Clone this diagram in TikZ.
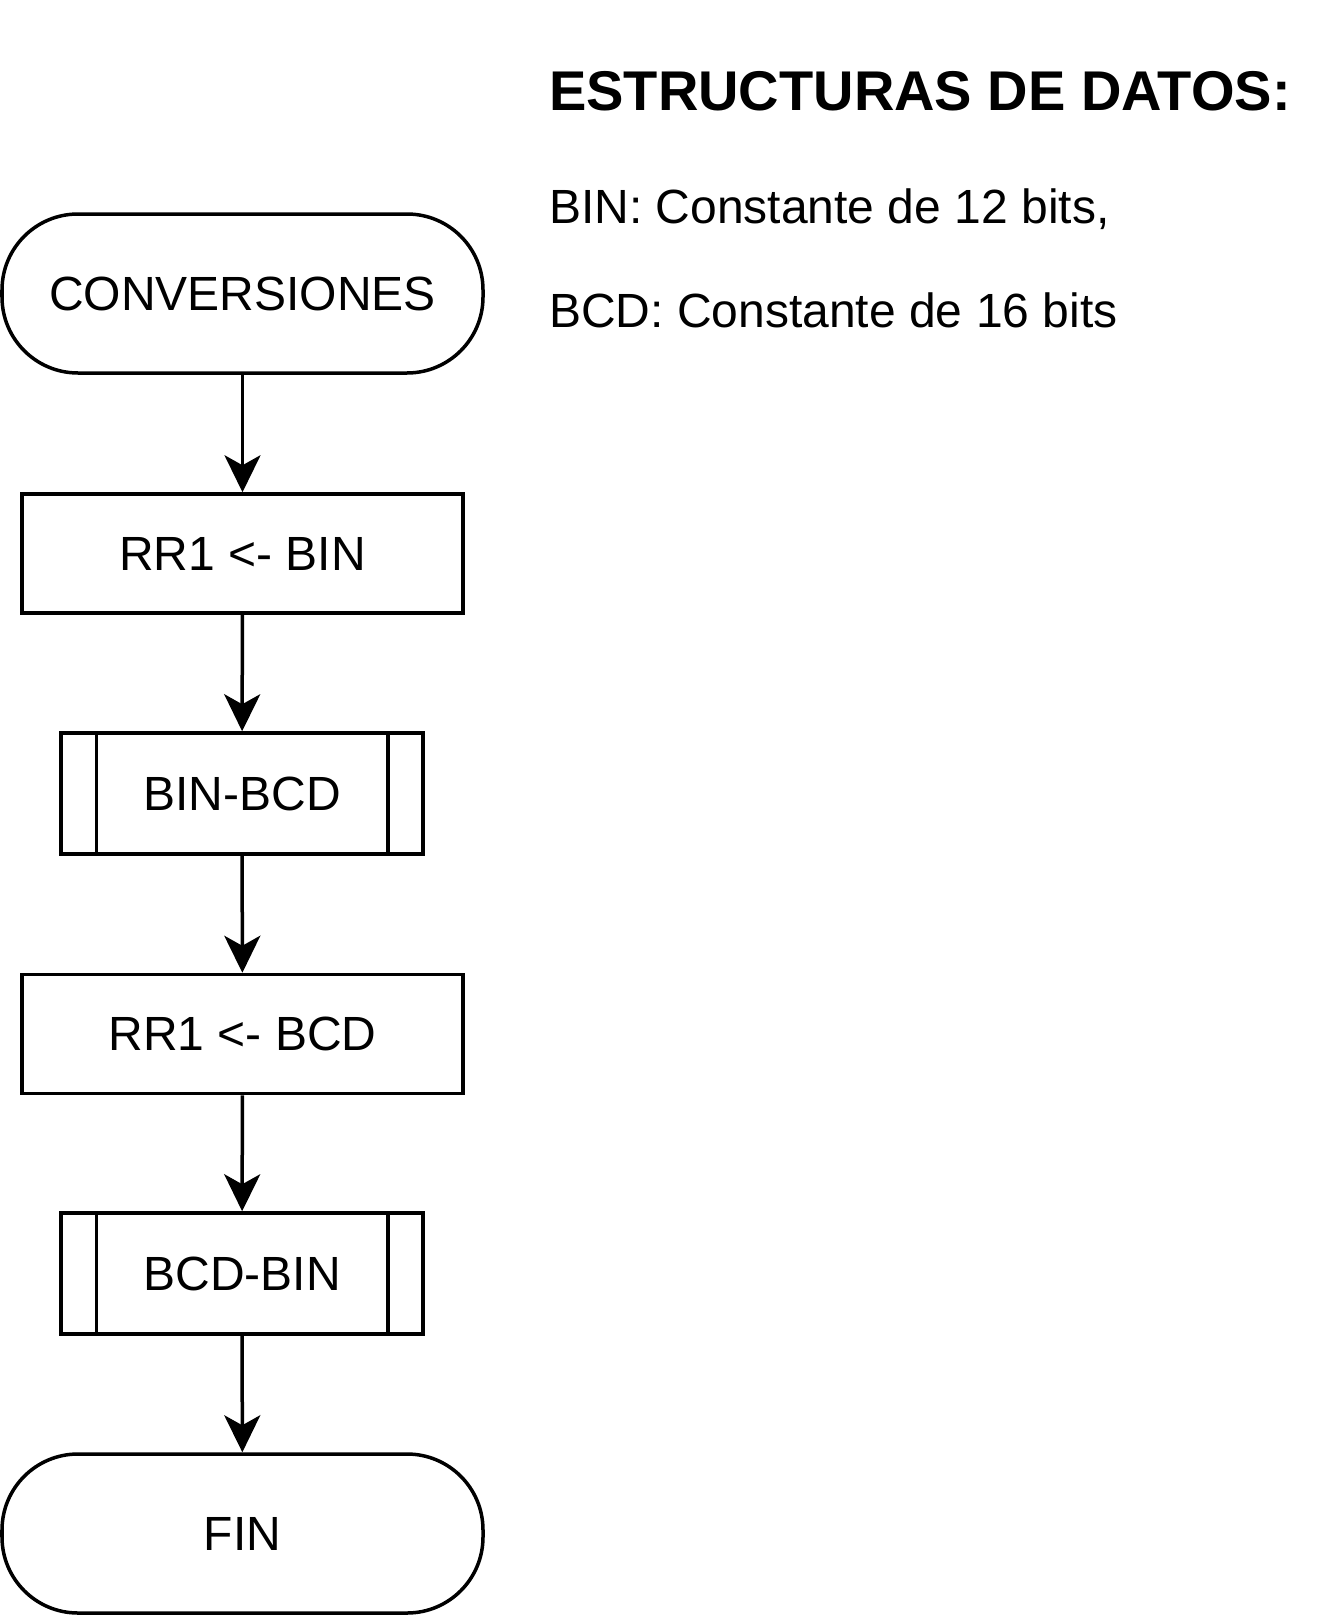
\documentclass[tikz,border=0pt]{standalone}
\usepackage{fontspec}
\setmainfont{Liberation Sans}
\usetikzlibrary{arrows.meta}
\begin{document}
\begin{tikzpicture}[x=1pt,y=-1pt,
  every node/.style={inner sep=0pt, font=\fontsize{48}{57}\selectfont},
  term/.style={draw, line width=3.5pt, rounded corners=76pt, minimum width=481pt, minimum height=159pt},
  procbox/.style={draw, line width=3.5pt, minimum width=441pt, minimum height=119pt},
  subbox/.style={draw, line width=3.5pt, minimum width=362pt, minimum height=121pt},
  conn/.style={line width=3.5pt, -{Stealth[length=37pt,width=36pt,inset=10pt]}},
  lbl/.style={anchor=base west}
]
\useasboundingbox (0,0) rectangle (1324,1616);
\node[term] (start) at (242.5,293.5) {CONVERSIONES};
\node[procbox] (p1) at (242.5,553.5) {RR1 <- BIN};
\node[subbox] (s1) at (242,793.5) {BIN-BCD};
\node[procbox] (p2) at (242.5,1034) {RR1 <- BCD};
\node[subbox] (s2) at (242,1273.5) {BCD-BIN};
\node[term] (fin) at (242.5,1533.5) {FIN};
\foreach \n in {s1,s2}{
  \draw[line width=3.5pt] ([xshift=37pt]\n.north west) -- ([xshift=37pt]\n.south west);
  \draw[line width=3.5pt] ([xshift=-37pt]\n.north east) -- ([xshift=-37pt]\n.south east);
}
\draw[conn] (start) -- (p1);
\draw[conn] (p1) -- (s1);
\draw[conn] (s1) -- (p2);
\draw[conn] (p2) -- (s2);
\draw[conn] (s2) -- (fin);
\node[lbl, font=\fontsize{56}{66}\selectfont\bfseries] (title) at (549,111) {ESTRUCTURAS DE DATOS:};
\node[lbl] (bin) at (549,223) {BIN: Constante de 12 bits,};
\node[lbl] (bcd) at (549,327) {BCD: Constante de 16 bits};
\end{tikzpicture}
\end{document}
